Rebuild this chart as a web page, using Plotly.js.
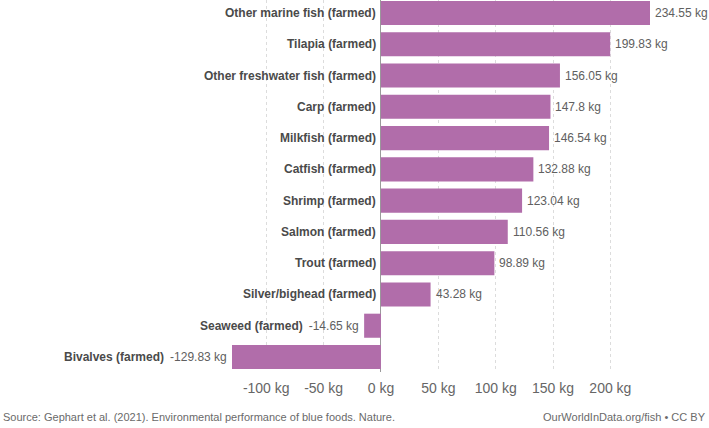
<!DOCTYPE html>
<html>
<head>
<meta charset="utf-8">
<script src="https://cdn.plot.ly/plotly-3.0.1.min.js"></script>
<style>html,body{margin:0;padding:0;background:#fff;}#chart{width:709px;height:428px;}</style>
</head>
<body>
<div id="chart"></div>
<script>
const categories = [
  "Other marine fish (farmed)",
  "Tilapia (farmed)",
  "Other freshwater fish (farmed)",
  "Carp (farmed)",
  "Milkfish (farmed)",
  "Catfish (farmed)",
  "Shrimp (farmed)",
  "Salmon (farmed)",
  "Trout (farmed)",
  "Silver/bighead (farmed)",
  "Seaweed (farmed)",
  "Bivalves (farmed)"
];
const values = [234.55, 199.83, 156.05, 147.8, 146.54, 132.88, 123.04, 110.56, 98.89, 43.28, -14.65, -129.83];
const tickValues = [-100, -50, 0, 50, 100, 150, 200];
const tickLabels = tickValues.map(v => v + " kg");
const unit = " kg";
const sourceText = "Source: Gephart et al. (2021). Environmental performance of blue foods. Nature.";
const creditText = "OurWorldInData.org/fish • CC BY";

const FONT = "Liberation Sans, Arial, sans-serif";
const barColor = "#b16daa";

const trace = {
  type: "bar",
  orientation: "h",
  x: values,
  y: categories,
  marker: {color: barColor},
  hoverinfo: "none"
};

const annotations = [];
categories.forEach((c, i) => {
  const v = values[i];
  const txt = v >= 0 ? "<b>" + c + "</b>" : "<b>" + c + "</b>&#8194;<span style='color:#606060'>" + v + unit + "</span>";
  annotations.push({
    x: Math.min(0, v), y: c, xref: "x", yref: "y",
    text: txt, showarrow: false, xanchor: "right", yanchor: "middle",
    xshift: -3,
    font: {family: FONT, size: 12, color: "#4a4a4a"}
  });
  if (v >= 0) {
    annotations.push({
      x: v, y: c, xref: "x", yref: "y",
      text: v + unit, showarrow: false, xanchor: "left", yanchor: "middle",
      xshift: 3,
      font: {family: FONT, size: 12, color: "#606060"}
    });
  }
});
annotations.push({
  x: -0.552, y: -0.121, xref: "paper", yref: "paper", text: sourceText,
  showarrow: false, xanchor: "left", yanchor: "middle",
  font: {family: FONT, size: 11, color: "#6a6a6a"}
});
annotations.push({
  x: 1.138, y: -0.121, xref: "paper", yref: "paper", text: creditText,
  showarrow: false, xanchor: "right", yanchor: "middle",
  font: {family: FONT, size: 11, color: "#6a6a6a"}
});

const layout = {
  width: 709, height: 428,
  margin: {l: 232, r: 59, t: 0, b: 56},
  paper_bgcolor: "#fff", plot_bgcolor: "#fff",
  showlegend: false,
  bargap: 0.23,
  xaxis: {
    range: [Math.min(...values), Math.max(...values)],
    tickvals: tickValues, ticktext: tickLabels,
    showgrid: true, gridcolor: "#dcdcdc", griddash: "3px,3px", gridwidth: 1,
    zeroline: true, zerolinecolor: "#9a9a9a", zerolinewidth: 1,
    showline: false, ticks: "",
    tickfont: {family: FONT, size: 14, color: "#666"},
    ticklabelstandoff: 6,
    fixedrange: true
  },
  yaxis: {
    type: "category",
    categoryorder: "array", categoryarray: categories,
    range: [11.48, -0.416],
    showticklabels: false, showgrid: false, zeroline: false, ticks: "",
    fixedrange: true
  },
  annotations: annotations
};

Plotly.newPlot("chart", [trace], layout, {displayModeBar: false, staticPlot: true});
</script>
</body>
</html>
